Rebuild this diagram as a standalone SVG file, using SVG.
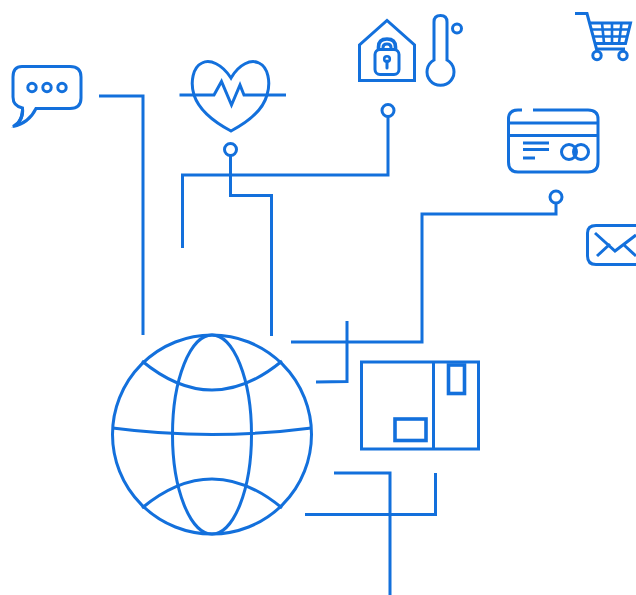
<svg xmlns="http://www.w3.org/2000/svg" width="636" height="595" viewBox="0 0 636 595">
<style>
.l{fill:none;stroke:#1370dc;stroke-width:3;stroke-linejoin:miter}
.t{fill:none;stroke:#1370dc;stroke-width:2.6}
.h{fill:none;stroke:#1370dc;stroke-width:3.6}
</style>
<rect width="636" height="595" fill="#fff"/>
<g id="connectors" class="l">
<path d="M99 96H143V335"/>
<path d="M230.500 156V195.500H271.500V336"/>
<path d="M182.500 248V175H388V117"/>
<path d="M291 342H422V214H556V203"/>
<path d="M347 321V381.500L316 382"/>
<path d="M334 473H390V595"/>
<path d="M305 514.500H435.500V473"/>
<circle cx="230.500" cy="149.500" r="6"/>
<circle cx="388" cy="110.500" r="6"/>
<circle cx="556" cy="197" r="6"/>
</g>
<g id="chat">
<path class="l" d="M22 66.500H70Q81 66.500 81 77V98Q81 108.500 70 108.500H36Q29 123 13 126.500Q24 120 22.500 108Q13 106 13 97V77Q13 66.500 22 66.500Z"/>
<path d="M11 128Q20 122 21 110L24 110Q24 121 18 125Z" fill="#1370dc"/>
<circle class="l" cx="32" cy="87.500" r="4.200"/><circle class="l" cx="47" cy="87.500" r="4.200"/><circle class="l" cx="62" cy="87.500" r="4.200"/>
</g>
<g id="heart" class="l">
<path d="M231 78C222 64 210 59 202 63C193 67 190 82 194 95C199 110 214 122 231 131C248 122 263 110 267 95C271 82 268 67 259 63C251 59 239 64 231 78Z"/>
<path d="M179.500 95H214L221.500 81.500L231.500 105L240 85L244 95H286"/>
</g>
<g id="home-lock">
<path class="l" d="M359.500 80.500V45L387 20.500L414.500 45V80.500Z"/>
<rect class="l" x="375" y="49.500" width="24" height="25" rx="5"/>
<path class="h" d="M378.500 49.500V47Q378.500 39 387 39Q395.500 39 395.500 47V49.500"/>
<path class="l" d="M383 49.500V47.500Q383 44 387 44Q391 44 391 47.500V49.500"/>
<circle class="t" cx="387" cy="59" r="2.800"/>
<path class="l" d="M387 61V68" style="stroke-linecap:round"/>
</g>
<g id="thermometer" class="l">
<path d="M434 60V22Q434 15.500 440.500 15.500Q447 15.500 447 22V60A13.500 13.500 0 1 1 434 60Z"/>
<circle cx="457" cy="28.500" r="4.500"/>
</g>
<g id="cart" class="l">
<path d="M575 13.500H587L596.500 49H625"/>
<path d="M589 23H630.500L625.500 43.500H594.500"/>
<path d="M591 29.500H629M592.500 36.500H627.500" class="t"/>
<path d="M602 23L604 43M612 23V43M621.500 23L619 43" class="t"/>
<circle cx="597" cy="55.500" r="4.200"/><circle cx="623" cy="55.500" r="4.200"/>
</g>
<g id="card" class="l">
<path d="M522 110H518Q508.500 110 508.500 119V162Q508.500 172 518 172H588Q598 172 598 162V119Q598 110 588 110H533"/>
<path d="M508.500 123H598M508.500 135.500H598"/>
<path d="M523 143H549M523 149.500H549M523 158H535"/>
<circle cx="569" cy="152" r="7.500"/><circle cx="581" cy="152" r="7.500"/>
</g>
<g id="mail" class="l">
<path d="M636 225.500H596Q587.500 225.500 587.500 233V256Q587.500 264.500 596 264.500H636"/>
<path d="M595 233L615 251L636 235M597 256L610 244M636 256L624 245"/>
</g>
<g id="globe" class="l">
<circle cx="212" cy="434.500" r="99.500"/>
<ellipse cx="212" cy="434.500" rx="39.500" ry="99.500"/>
<path d="M142 361Q177 390 212 390Q247 390 282 361"/>
<path d="M142 508Q177 479 212 479Q247 479 282 508"/>
<path d="M112.500 428Q212 441 311.500 428"/>
</g>
<g id="package">
<rect class="l" x="361.500" y="362" width="117" height="87"/>
<path class="l" d="M433.500 362V449"/>
<rect class="h" x="448.500" y="365" width="16" height="28.500"/>
<rect class="h" x="395" y="419" width="31" height="21.500"/>
</g>
</svg>
